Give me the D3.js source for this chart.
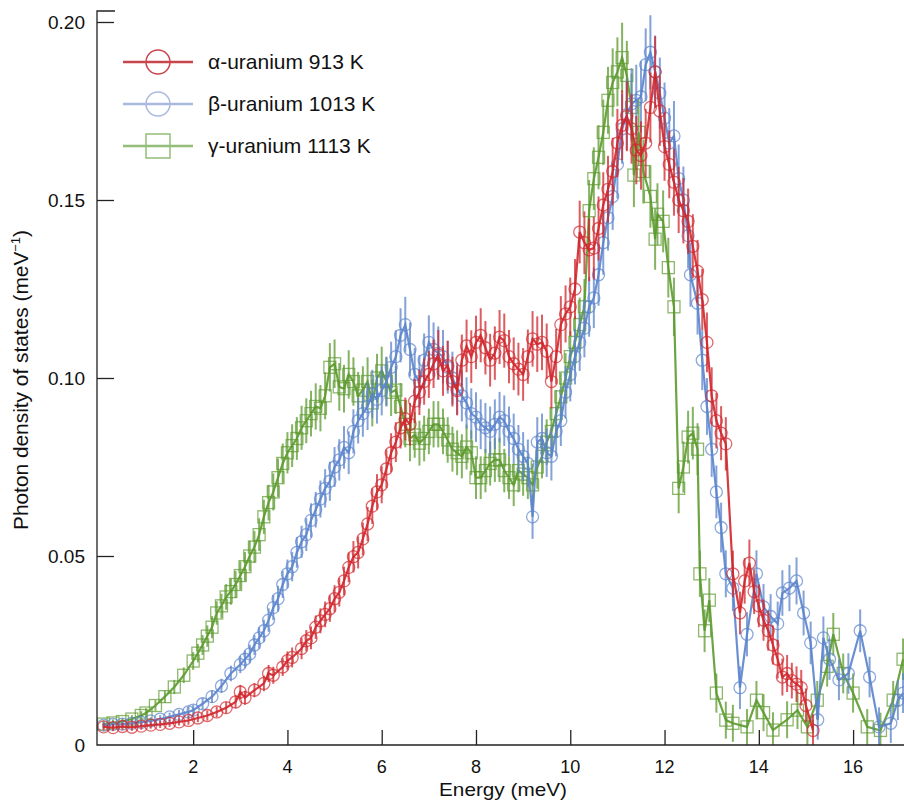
<!doctype html>
<html lang="en">
<head>
  <meta charset="utf-8">
  <style>
    body { margin: 0; background-color: white; }
    svg { display: block; background-color: white; }
    text { font-family: "Liberation Sans", Arial, sans-serif; fill: #111; }
    .axis line, .axis path { stroke: #222; stroke-width: 1.3px; }
  </style>
</head>
<body>
<script src="https://d3js.org/d3.v7.min.js"></script>
<script>
var width = 904,
    height = 801;

// [energy (meV), PDOS (1/meV), error]
var alpha = [
  [0.1,.0020,.001],[0.3,.0018,.001],[0.5,.0021,.001],[0.7,.0019,.001],[0.9,.0022,.001],
  [1.1,.0025,.001],[1.3,.0027,.001],[1.5,.0030,.001],[1.7,.0034,.001],[1.9,.0038,.0012],
  [2.1,.0045,.0012],[2.3,.0052,.0014],[2.5,.0062,.0015],[2.7,.0074,.0016],[2.9,.0090,.0018],
  [3.0,.0118,.002],[3.1,.0102,.002],[3.3,.0123,.002],[3.5,.0142,.0022],[3.6,.0170,.0024],
  [3.7,.0165,.0024],[3.9,.0188,.0025],[4.0,.0206,.0026],[4.1,.0215,.0028],[4.3,.0240,.003],
  [4.4,.0262,.003],[4.5,.0270,.0032],[4.6,.0300,.0033],[4.7,.0318,.0035],[4.8,.0336,.0036],
  [4.9,.0352,.0037],[5.0,.0380,.0038],[5.1,.0398,.004],[5.2,.0430,.004],[5.3,.0468,.0042],
  [5.4,.0498,.0044],[5.5,.0510,.0045],[5.6,.0548,.0046],[5.7,.0590,.0048],[5.8,.0640,.005],
  [5.9,.0680,.005],[6.0,.0700,.0052],[6.1,.0745,.0054],[6.2,.0790,.0055],[6.3,.0820,.0056],
  [6.4,.0860,.0058],[6.5,.0885,.006],[6.6,.0870,.006],[6.7,.0935,.0062],[6.8,.0960,.0064],
  [6.9,.0990,.0065],[7.0,.1010,.0066],[7.1,.1040,.0068],[7.2,.1065,.007],[7.3,.1020,.007],
  [7.4,.1035,.007],[7.5,.0990,.007],[7.6,.0965,.007],[7.7,.1050,.0072],[7.8,.1090,.0074],
  [7.9,.1060,.0074],[8.0,.1100,.0075],[8.1,.1120,.0076],[8.2,.1085,.0075],[8.3,.1050,.0074],
  [8.4,.1070,.0075],[8.5,.1115,.0076],[8.6,.1105,.0076],[8.7,.1060,.0075],[8.8,.1040,.0074],
  [8.9,.1025,.0074],[9.0,.1010,.0074],[9.1,.1060,.0076],[9.2,.1110,.0078],[9.3,.1095,.0078],
  [9.4,.1100,.0078],[9.5,.1075,.0078],[9.6,.0990,.0076],[9.7,.1060,.0078],[9.8,.1150,.008],
  [9.9,.1180,.008],[10.0,.1200,.0082],[10.1,.1250,.0084],[10.2,.1410,.0088],[10.3,.1380,.0088],
  [10.4,.1360,.0088],[10.5,.1365,.0088],[10.6,.1420,.009],[10.7,.1486,.0092],[10.8,.1530,.0094],
  [10.9,.1580,.0095],[11.0,.1660,.0096],[11.1,.1710,.0098],[11.2,.1735,.0098],[11.3,.1700,.0098],
  [11.4,.1640,.0096],[11.5,.1625,.0096],[11.6,.1660,.0096],[11.7,.1760,.0098],[11.8,.1860,.01],
  [11.9,.1750,.0098],[12.0,.1650,.0096],[12.1,.1600,.0095],[12.2,.1550,.0094],[12.3,.1500,.0093],
  [12.4,.1470,.0092],[12.5,.1440,.0092],[12.6,.1370,.009],[12.7,.1300,.0088],[12.8,.1220,.0086],
  [12.9,.1100,.0084],[13.0,.0950,.008],[13.1,.0880,.0078],[13.2,.0845,.0076],[13.3,.0815,.0075],
  [13.45,.0450,.0065],[13.6,.0340,.006],[13.7,.0430,.0064],[13.8,.0480,.0066],[13.9,.0400,.0063],
  [14.0,.0360,.006],[14.1,.0320,.0058],[14.2,.0290,.0056],[14.3,.0250,.0055],[14.4,.0210,.0054],
  [14.5,.0160,.0052],[14.6,.0170,.0052],[14.7,.0150,.005],[14.8,.0140,.005],[14.9,.0130,.005],
  [15.0,.0080,.0048],[15.15,.0010,.0045]
];

var beta = [
  [0.1,.0025,.001],[0.3,.0027,.001],[0.5,.0028,.001],[0.7,.0030,.001],[0.9,.0033,.001],
  [1.1,.0037,.001],[1.3,.0042,.0011],[1.5,.0048,.0012],[1.7,.0055,.0013],[1.9,.0062,.0014],
  [2.0,.0067,.0015],[2.2,.0085,.0016],[2.4,.0105,.0018],[2.6,.0135,.002],[2.8,.0170,.0022],
  [3.0,.0195,.0024],[3.1,.0210,.0025],[3.2,.0225,.0026],[3.3,.0250,.0028],[3.4,.0270,.003],
  [3.5,.0290,.0031],[3.6,.0320,.0033],[3.7,.0355,.0035],[3.8,.0380,.0036],[3.9,.0420,.0038],
  [4.0,.0450,.004],[4.1,.0470,.0041],[4.2,.0510,.0043],[4.3,.0540,.0045],[4.4,.0560,.0046],
  [4.5,.0600,.0048],[4.6,.0630,.005],[4.7,.0660,.0052],[4.8,.0690,.0054],[4.9,.0710,.0055],
  [5.0,.0750,.0056],[5.1,.0770,.0058],[5.2,.0805,.006],[5.3,.0790,.006],[5.4,.0850,.0062],
  [5.5,.0880,.0064],[5.6,.0900,.0065],[5.7,.0920,.0066],[5.8,.0955,.0068],[5.9,.0940,.0068],
  [6.0,.0965,.007],[6.1,.0990,.007],[6.2,.1030,.0072],[6.3,.1060,.0074],[6.4,.1120,.0076],
  [6.5,.1150,.0078],[6.6,.1080,.0076],[6.7,.1010,.0074],[6.8,.0990,.0074],[6.9,.1050,.0075],
  [7.0,.1100,.0076],[7.1,.1080,.0076],[7.2,.1070,.0075],[7.3,.1060,.0075],[7.4,.1030,.0074],
  [7.5,.1000,.0074],[7.6,.0970,.0073],[7.7,.0950,.0072],[7.8,.0930,.0072],[7.9,.0900,.0071],
  [8.0,.0890,.007],[8.1,.0870,.007],[8.2,.0860,.007],[8.3,.0850,.007],[8.4,.0870,.007],
  [8.5,.0890,.0071],[8.6,.0880,.0071],[8.7,.0850,.007],[8.8,.0830,.007],[8.9,.0800,.0068],
  [9.0,.0780,.0068],[9.1,.0760,.0067],[9.2,.0610,.0062],[9.3,.0820,.007],[9.4,.0830,.007],
  [9.5,.0790,.0068],[9.6,.0780,.0068],[9.7,.0850,.007],[9.8,.0880,.0071],[9.9,.0960,.0074],
  [10.0,.1010,.0076],[10.1,.1060,.0078],[10.2,.1100,.008],[10.3,.1140,.0082],[10.4,.1200,.0084],
  [10.5,.1225,.0085],[10.6,.1290,.0087],[10.7,.1380,.009],[10.8,.1450,.0092],[10.9,.1510,.0094],
  [11.0,.1600,.0096],[11.1,.1700,.0098],[11.2,.1740,.01],[11.3,.1770,.01],[11.4,.1780,.01],
  [11.5,.1790,.01],[11.6,.1880,.0102],[11.7,.1915,.0104],[11.8,.1860,.0102],[11.9,.1800,.01],
  [12.0,.1730,.01],[12.1,.1660,.0098],[12.2,.1680,.0098],[12.3,.1560,.0096],[12.4,.1500,.0094],
  [12.5,.1400,.0092],[12.55,.1290,.009],[12.7,.1210,.0088],[12.8,.1050,.0084],[12.9,.0920,.008],
  [13.0,.0800,.0078],[13.1,.0680,.0074],[13.2,.0580,.007],[13.3,.0450,.0066],[13.45,.0410,.0065],
  [13.6,.0130,.006],[13.75,.0280,.0062],[13.95,.0450,.0066],[14.1,.0357,.0064],[14.25,.0330,.0063],
  [14.4,.0310,.0062],[14.5,.0396,.0064],[14.65,.0410,.0065],[14.8,.0430,.0066],[14.95,.0340,.0063],
  [15.1,.0256,.006],[15.25,.0040,.0056],[15.37,.0270,.006],[15.5,.0210,.0058],[15.7,.0152,.0057],
  [15.9,.0170,.0057],[16.15,.0290,.006],[16.35,.0160,.0057],[16.55,.0020,.0055],[16.8,.0030,.0055],
  [16.95,.0095,.0056],[17.06,.0115,.0056]
];

var gamma = [
  [0.1,.0028,.001],[0.3,.0031,.001],[0.5,.0035,.001],[0.7,.0042,.0011],[0.9,.0052,.0012],
  [1.0,.0059,.0013],[1.2,.0080,.0015],[1.4,.0105,.0017],[1.6,.0132,.002],[1.8,.0165,.0022],
  [2.0,.0205,.0025],[2.1,.0227,.0026],[2.2,.0250,.0028],[2.3,.0275,.003],[2.4,.0300,.0031],
  [2.5,.0340,.0033],[2.6,.0360,.0034],[2.7,.0385,.0036],[2.8,.0400,.0037],[2.9,.0420,.0038],
  [3.0,.0445,.004],[3.1,.0470,.0041],[3.2,.0500,.0043],[3.3,.0525,.0045],[3.4,.0560,.0046],
  [3.5,.0610,.0048],[3.6,.0650,.005],[3.7,.0680,.0052],[3.8,.0720,.0054],[3.9,.0760,.0056],
  [4.0,.0790,.0058],[4.1,.0810,.006],[4.2,.0830,.006],[4.3,.0860,.0062],[4.4,.0880,.0063],
  [4.5,.0900,.0064],[4.6,.0920,.0065],[4.7,.0915,.0065],[4.8,.0950,.0066],[4.9,.1030,.0068],
  [5.0,.1040,.0068],[5.1,.0975,.0067],[5.2,.0970,.0067],[5.3,.1010,.0068],[5.4,.0990,.0068],
  [5.5,.0950,.0067],[5.6,.0966,.0067],[5.7,.0990,.0068],[5.8,.0930,.0066],[5.9,.1000,.0068],
  [6.0,.1020,.0068],[6.1,.0990,.0068],[6.2,.0960,.0067],[6.3,.0966,.0067],[6.4,.0920,.0066],
  [6.5,.0870,.0065],[6.6,.0830,.0064],[6.7,.0840,.0064],[6.8,.0817,.0063],[6.9,.0830,.0064],
  [7.0,.0850,.0064],[7.1,.0870,.0065],[7.2,.0870,.0065],[7.3,.0850,.0064],[7.4,.0826,.0064],
  [7.5,.0800,.0063],[7.6,.0790,.0063],[7.7,.0780,.0062],[7.8,.0806,.0063],[7.9,.0790,.0063],
  [8.0,.0720,.006],[8.1,.0720,.006],[8.2,.0740,.0061],[8.3,.0760,.0062],[8.4,.0770,.0062],
  [8.5,.0770,.0062],[8.6,.0740,.0061],[8.7,.0720,.006],[8.8,.0700,.006],[8.9,.0740,.0061],
  [9.0,.0730,.0061],[9.1,.0720,.006],[9.2,.0700,.006],[9.3,.0750,.0061],[9.4,.0780,.0062],
  [9.5,.0820,.0064],[9.6,.0850,.0065],[9.7,.0900,.0066],[9.8,.0947,.0068],[9.9,.1000,.007],
  [10.0,.1060,.0072],[10.1,.1100,.0074],[10.2,.1150,.0076],[10.3,.1200,.0078],[10.4,.1470,.0086],
  [10.5,.1560,.0088],[10.6,.1620,.009],[10.7,.1690,.0092],[10.8,.1780,.0094],[10.9,.1830,.0096],
  [11.0,.1860,.0097],[11.1,.1900,.0098],[11.2,.1850,.0097],[11.3,.1760,.0095],[11.35,.1570,.009],
  [11.45,.1690,.0093],[11.55,.1580,.009],[11.7,.1510,.0088],[11.8,.1390,.0086],[11.85,.1460,.0087],
  [11.97,.1440,.0087],[12.08,.1310,.0084],[12.2,.1200,.0082],[12.3,.0690,.007],[12.4,.0750,.0072],
  [12.5,.0834,.0074],[12.6,.0845,.0074],[12.7,.0800,.0073],[12.75,.0450,.0065],[12.85,.0290,.006],
  [12.95,.0376,.0062],[13.1,.0115,.0055],[13.3,.0039,.0052],[13.45,.0030,.0052],[13.75,.0020,.005],
  [13.95,.0095,.0054],[14.1,.0060,.0052],[14.3,.0011,.005],[14.6,.0040,.0052],[14.82,.0067,.0053],
  [15.03,.0020,.005],[15.24,.0095,.0054],[15.45,.0190,.0057],[15.58,.0280,.006],[15.79,.0170,.0056],
  [16.0,.0115,.0055],[16.3,.0020,.005],[16.58,.0010,.005],[16.85,.0095,.0054],[17.06,.0210,.0058]
];

var seriesNames = ["\u03b1-uranium 913 K", "\u03b2-uranium 1013 K", "\u03b3-uranium 1113 K"];
var seriesColors = ["#d1262c", "#5b84cc", "#5c9a2e"];
var legendColors = ["#c9454d", "#a9b9e0", "#93bd78"];
var seriesMarkers = ["circle", "circle", "square"];
var xTicks = [2, 4, 6, 8, 10, 12, 14, 16];
var yTicks = [0, 0.05, 0.10, 0.15, 0.20];

var margin = {left: 97, top: 11, bottom: 745, right: 904};

var x = d3.scaleLinear()
  .domain([-0.04, 17.08])
  .range([margin.left, margin.right]);

var y = d3.scaleLinear()
  .domain([0, 0.2])
  .range([734, 22]);

var svg = d3.select("body").append("svg")
  .attr("width", width)
  .attr("height", height);

svg.append("defs").append("clipPath").attr("id", "plot")
  .append("rect")
  .attr("x", margin.left).attr("y", 0)
  .attr("width", margin.right - margin.left).attr("height", margin.bottom);

var plot = svg.append("g").attr("clip-path", "url(#plot)");

function drawSeries(data, i) {
  var c = seriesColors[i];
  var g = plot.append("g");
  var line = d3.line()
    .x(function(d) { return x(d[0]); })
    .y(function(d) { return y(d[1]); });

  // error bars
  g.selectAll(".err")
    .data(data)
    .enter().append("line")
    .attr("x1", function(d) { return x(d[0]); })
    .attr("x2", function(d) { return x(d[0]); })
    .attr("y1", function(d) { return y(d[1] - d[2]); })
    .attr("y2", function(d) { return y(d[1] + d[2]); })
    .style("stroke", c)
    .style("stroke-width", 2)
    .style("opacity", 0.75);

  g.append("path")
    .datum(data)
    .attr("d", line)
    .style("fill", "none")
    .style("stroke", c)
    .style("stroke-width", 2.2)
    .style("opacity", 0.9);

  if (seriesMarkers[i] === "circle") {
    g.selectAll(".mk")
      .data(data)
      .enter().append("circle")
      .attr("cx", function(d) { return x(d[0]); })
      .attr("cy", function(d) { return y(d[1]); })
      .attr("r", 6)
      .style("fill", "none")
      .style("stroke", c)
      .style("stroke-width", 1.3)
      .style("opacity", 0.7);
  } else {
    g.selectAll(".mk")
      .data(data)
      .enter().append("rect")
      .attr("x", function(d) { return x(d[0]) - 6; })
      .attr("y", function(d) { return y(d[1]) - 6; })
      .attr("width", 12)
      .attr("height", 12)
      .style("fill", "none")
      .style("stroke", c)
      .style("stroke-width", 1.3)
      .style("opacity", 0.7);
  }
}

drawSeries(gamma, 2);
drawSeries(beta, 1);
drawSeries(alpha, 0);

// axes
var yAxis = d3.axisRight(y)
  .tickValues(yTicks.slice(1))
  .tickSize(17)
  .tickFormat("");

svg.append("g")
  .attr("class", "axis")
  .attr("transform", "translate(" + margin.left + ",0)")
  .call(yAxis)
  .call(function(g) { g.select(".domain").remove(); });

var xAxis = d3.axisTop(x)
  .tickValues(xTicks)
  .tickSize(15)
  .tickFormat("");

svg.append("g")
  .attr("class", "axis")
  .attr("transform", "translate(0," + margin.bottom + ")")
  .call(xAxis)
  .call(function(g) { g.select(".domain").remove(); });

svg.append("path")
  .attr("d", "M115," + margin.top + "H" + margin.left + "V" + margin.bottom + "H" + margin.right)
  .style("fill", "none")
  .style("stroke", "#222")
  .style("stroke-width", 1.3);

// tick labels
svg.selectAll(".ylab")
  .data(yTicks)
  .enter().append("text")
  .attr("x", 85)
  .attr("y", function(d) { return d === 0 ? 745 : y(d); })
  .attr("dy", "0.35em")
  .attr("text-anchor", "end")
  .style("font-size", "19px")
  .text(function(d) { return d === 0 ? "0" : d3.format(".2f")(d); });

svg.selectAll(".xlab")
  .data(xTicks)
  .enter().append("text")
  .attr("x", function(d) { return x(d); })
  .attr("y", 773)
  .attr("text-anchor", "middle")
  .style("font-size", "18px")
  .text(function(d) { return d; });

svg.append("text")
  .attr("x", 503)
  .attr("y", 796)
  .attr("text-anchor", "middle")
  .attr("textLength", 128)
  .attr("lengthAdjust", "spacingAndGlyphs")
  .style("font-size", "19px")
  .text("Energy (meV)");

var yt = svg.append("text")
  .attr("transform", "translate(28,380) rotate(-90)")
  .attr("text-anchor", "middle")
  .attr("textLength", 300)
  .attr("lengthAdjust", "spacingAndGlyphs")
  .style("font-size", "21px");
yt.append("tspan").text("Photon density of states (meV");
yt.append("tspan").attr("dy", -8).style("font-size", "13px").text("\u22121");
yt.append("tspan").attr("dy", 8).text(")");

// legend
var legend = svg.append("g");
seriesNames.forEach(function(name, i) {
  var ly = 62 + i * 42;
  var c = legendColors[i];
  legend.append("line")
    .attr("x1", 123).attr("x2", 193)
    .attr("y1", ly).attr("y2", ly)
    .style("stroke", c).style("stroke-width", 2.5);
  if (seriesMarkers[i] === "circle") {
    legend.append("circle")
      .attr("cx", 158).attr("cy", ly).attr("r", 12)
      .style("fill", "none").style("stroke", c).style("stroke-width", 1.5);
  } else {
    legend.append("rect")
      .attr("x", 146).attr("y", ly - 12).attr("width", 24).attr("height", 24)
      .style("fill", "none").style("stroke", c).style("stroke-width", 1.5);
  }
  legend.append("text")
    .attr("x", 208).attr("y", ly)
    .attr("dy", "0.35em")
    .style("font-size", "21px")
    .text(name);
});
</script>
</body>
</html>
